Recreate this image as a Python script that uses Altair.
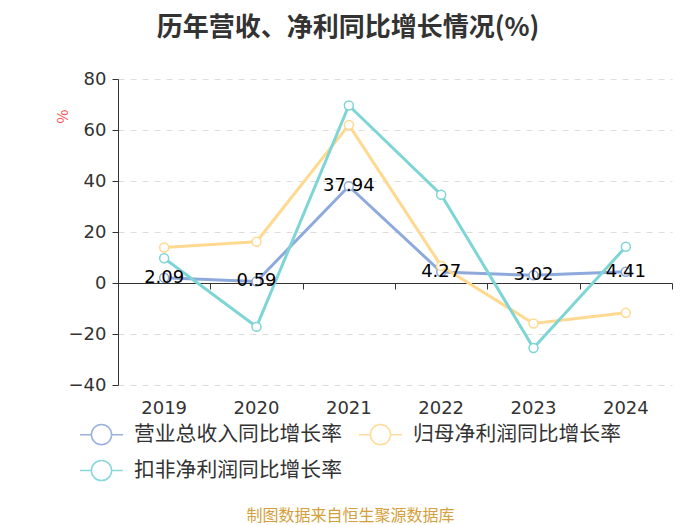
import altair as alt
import pandas as pd

years = ["2019", "2020", "2021", "2022", "2023", "2024"]
series_names = ["营业总收入同比增长率", "归母净利润同比增长率", "扣非净利润同比增长率"]
revenue = [2.09, 0.59, 37.94, 4.27, 3.02, 4.41]
net_profit = [13.9, 16.2, 62.0, 6.7, -15.9, -11.7]
deducted = [9.7, -17.2, 69.6, 34.6, -25.5, 14.2]
colors = ["#8EA9DC", "#FFD98F", "#7ED5D6"]

rows = []
for name, vals in zip(series_names, [revenue, net_profit, deducted]):
    for i, (y, v) in enumerate(zip(years, vals)):
        rows.append({"year": y, "value": v, "series": name, "order": i,
                     "label": f"{v:.2f}"})
df = pd.DataFrame(rows)

FONT = "Noto Sans CJK SC"
NUM = "DejaVu Sans"
W, H = 554, 306

xscale = alt.Scale(paddingInner=0, paddingOuter=0)
yscale = alt.Scale(domain=[-40, 80], nice=False, zero=False)
color = alt.Color(
    "series:N",
    scale=alt.Scale(domain=series_names, range=colors),
    legend=alt.Legend(
        title=None, orient="none", legendX=-39, legendY=333, columns=2,
        direction="horizontal",
        columnPadding=14, rowPadding=-4, labelFontSize=20.8, labelColor="#333333",
        labelFont=FONT, labelOffset=10, labelLimit=400,
        symbolType="M-1,0L-0.47,0M0.47,0L1,0M0.47,0A0.47,0.47,0,1,1,-0.47,0A0.47,0.47,0,1,1,0.47,0",
        symbolSize=1849, symbolStrokeWidth=1.5, symbolFillColor="transparent",
        symbolOpacity=0.9,
    ),
)

base = alt.Chart(df)

lines = base.mark_line(strokeWidth=3).encode(
    x=alt.X("year:N", sort=years, scale=xscale,
            axis=alt.Axis(orient="bottom", domain=False, ticks=False, labelAngle=0,
                          labelFontSize=18, labelColor="#333333", labelFont=NUM,
                          labelPadding=14, grid=False,
                          title="制图数据来自恒生聚源数据库", titleFont=FONT,
                          titleFontSize=16, titleFontWeight="normal",
                          titleColor="#D4A03C", titleX=232, titleY=130,
                          titleAlign="center", titleBaseline="middle")),
    y=alt.Y("value:Q", scale=yscale,
            axis=alt.Axis(values=[-40, -20, 0, 20, 40, 60, 80], grid=True,
                          gridDash=[6, 6], gridColor="#DDDDDD", domain=True,
                          domainColor="#333333", tickColor="#333333", tickSize=6,
                          labelFontSize=18, labelColor="#333333", labelFont=NUM,
                          labelPadding=6,
                          title="%", titleColor="#FF4D4F", titleFontSize=15,
                          titleFont=FONT, titleFontWeight="normal",
                          titleX=-56, titleY=37, titleAngle=-90,
                          titleAlign="center", titleBaseline="middle")),
    color=color,
    order="order:Q",
)

points = base.mark_point(filled=True, fill="white", size=80, strokeWidth=1.5, opacity=1).encode(
    x=alt.X("year:N", sort=years, scale=xscale,
            axis=alt.Axis(orient="bottom", offset=-102, labels=False, domain=True,
                          domainColor="#333333", ticks=True, tickColor="#333333",
                          tickSize=6, tickBand="extent", grid=False, title=None)),
    y=alt.Y("value:Q", scale=yscale, axis=None),
    stroke=alt.Stroke("series:N", scale=alt.Scale(domain=series_names, range=colors),
                      legend=None),
)

texts = base.transform_filter(alt.datum.series == series_names[0]).mark_text(
    fontSize=18, font=NUM, color="#000000", baseline="middle", align="center"
).encode(
    x=alt.X("year:N", sort=years, scale=xscale, axis=None),
    y=alt.Y("value:Q", scale=yscale, axis=None),
    text="label:N",
)

chart = alt.layer(lines, points, texts).resolve_axis(
    x="independent", y="independent"
).properties(
    width=W, height=H,
    title=alt.TitleParams("历年营收、净利同比增长情况(%)", fontSize=26, font=FONT,
                          fontWeight="bold", color="#333333", anchor="middle",
                          dx=-47, offset=29),
    autosize=alt.AutoSizeParams(type="none"),
    padding={"left": 110, "top": 71, "right": 20, "bottom": 140},
).configure_view(stroke=None)

chart.save("out.html", embed_options={"renderer": "svg", "actions": False})
